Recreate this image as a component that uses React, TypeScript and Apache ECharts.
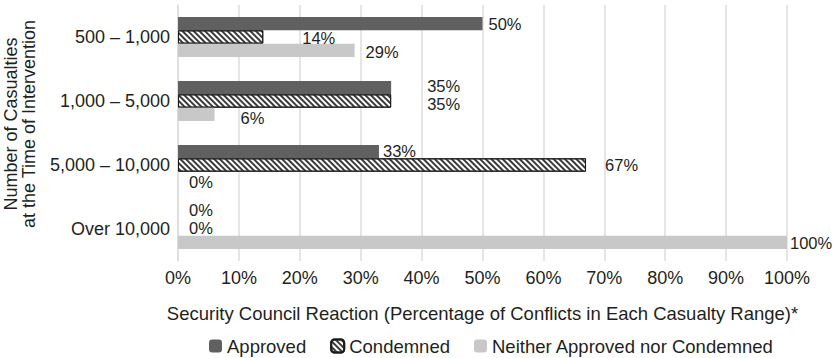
import React, { useEffect, useRef } from "react";
import * as echarts from "echarts";

const categories = ["500 – 1,000", "1,000 – 5,000", "5,000 – 10,000", "Over 10,000"];
const approved = [50, 35, 33, 0];
const condemned = [14, 35, 67, 0];
const neither = [29, 6, 0, 100];
const xTicks = [0, 10, 20, 30, 40, 50, 60, 70, 80, 90, 100];

// label offsets (dx, dy) relative to the default 'right' label position
const approvedLabelOffset = [[1, 0], [31, -2], [-1, -1], [6, -6]];
const condemnedLabelOffset = [[34, 1], [31, 3], [14, 0], [6, -1]];
const neitherLabelOffset = [[6, 2], [21, 4], [6, 4], [-2, 1]];

const FONT = "'Liberation Sans', Arial, Helvetica, sans-serif";
const TEXT = "#231f20";

function mk(values: number[], offsets: number[][], withBorder = false) {
  return values.map((v, i) => ({
    value: v,
    label: { offset: offsets[i] },
    ...(withBorder && v === 0 ? { itemStyle: { borderWidth: 0 } } : {}),
  }));
}

export default function App() {
  const ref = useRef<HTMLDivElement>(null);
  useEffect(() => {
    if (!ref.current) return;
    const chart = echarts.init(ref.current, null, { renderer: "svg" });
    const label = {
      show: true,
      position: "right" as const,
      distance: 5,
      formatter: "{c}%",
      color: TEXT,
      fontFamily: FONT,
      fontSize: 16.5,
      lineHeight: 13,
    };
    chart.setOption({
      animation: false,
      backgroundColor: "#fff",
      grid: {
        left: 178,
        right: 48,
        top: 5,
        bottom: 97,
        containLabel: false,
        outerBoundsMode: "none",
      },
      legend: {
        left: 209,
        top: 336,
        itemWidth: 13,
        itemHeight: 13,
        itemGap: 24,
        padding: 0,
        textStyle: { color: TEXT, fontFamily: FONT, fontSize: 18.5, lineHeight: 20 },
        data: ["Approved", "Condemned", "Neither Approved nor Condemned"],
      },
      xAxis: {
        type: "value",
        min: 0,
        max: 100,
        interval: 10,
        axisLine: { show: false },
        axisTick: { show: false },
        splitLine: { lineStyle: { color: "#dcdcdc", width: 1.5 } },
        axisLabel: {
          margin: 8,
          color: TEXT,
          fontFamily: FONT,
          fontSize: 18,
          formatter: (v: number) => (xTicks.includes(v) ? v + "%" : ""),
        },
        name: "Security Council Reaction (Percentage of Conflicts in Each Casualty Range)*",
        nameLocation: "middle",
        nameGap: 43,
        nameTextStyle: { color: TEXT, fontFamily: FONT, fontSize: 18.5 },
      },
      yAxis: {
        type: "category",
        inverse: true,
        data: categories,
        axisLine: { show: true, lineStyle: { color: "#dcdcdc", width: 1.5 } },
        axisTick: { show: false },
        axisLabel: { margin: 8, color: TEXT, fontFamily: FONT, fontSize: 18 },
        name: "Number of Casualties\nat the Time of Intervention",
        nameLocation: "middle",
        nameRotate: 90,
        nameGap: 140,
        nameTextStyle: {
          color: TEXT,
          fontFamily: FONT,
          fontSize: 18,
          lineHeight: 18,
          align: "center",
          padding: [0, 0, 0, 18],
        },
      },
      series: [
        {
          name: "Approved",
          type: "bar",
          barGap: "0%",
          barCategoryGap: "37.5%",
          itemStyle: { color: "#606060" },
          label,
          data: mk(approved, approvedLabelOffset),
        },
        {
          name: "Condemned",
          type: "bar",
          barGap: "0%",
          barCategoryGap: "37.5%",
          itemStyle: {
            color: "#ffffff",
            borderColor: "#1a1a1a",
            borderWidth: 1,
            decal: {
              symbol: "rect",
              symbolSize: 1,
              dashArrayX: [[1, 0]],
              dashArrayY: [2, 2],
              rotation: Math.PI / 4,
              color: "#3a3a3a",
            },
          },
          label,
          data: mk(condemned, condemnedLabelOffset, true),
        },
        {
          name: "Neither Approved nor Condemned",
          type: "bar",
          barGap: "0%",
          barCategoryGap: "37.5%",
          itemStyle: { color: "#c8c8c8" },
          label,
          data: mk(neither, neitherLabelOffset),
        },
      ],
    });
    return () => chart.dispose();
  }, []);
  return <div ref={ref} style={{ width: 835, height: 358, position: "absolute", left: 0, top: 0 }} />;
}
